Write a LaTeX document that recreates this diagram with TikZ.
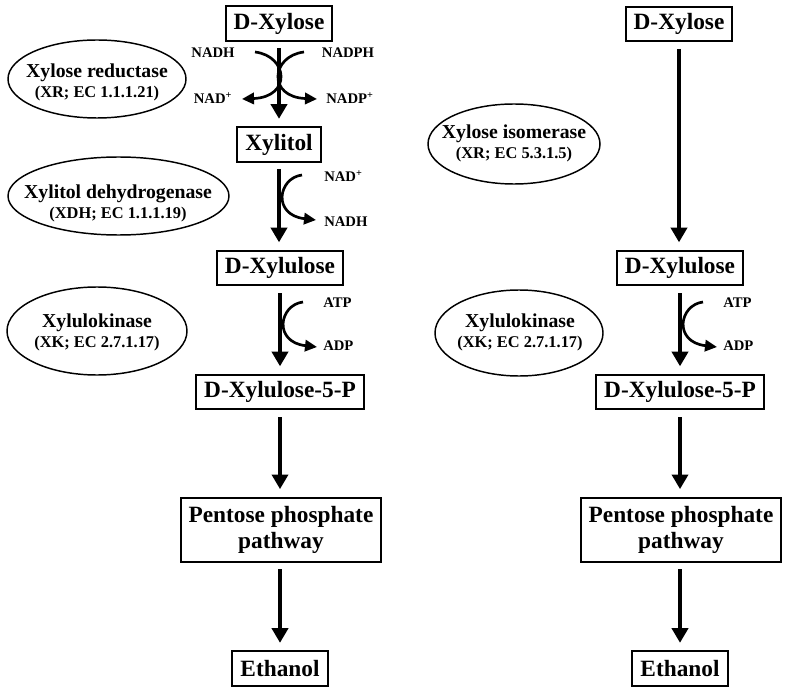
\documentclass[tikz,border=0pt]{standalone}
\usepackage{fontspec}
\setmainfont{Liberation Serif}
\usetikzlibrary{arrows.meta}
\begin{document}
\begin{tikzpicture}[x=0.75pt,y=-0.75pt]
\tikzset{
 box/.style={draw, line width=1.5pt, font=\fontsize{17.5}{19.5}\selectfont\bfseries, inner xsep=6pt, minimum height=26pt, align=center},
 flow/.style={line width=3.6pt, -{Triangle[length=11pt,width=12pt]}, shorten <=5pt, shorten >=5.5pt},
 side/.style={line width=2pt, -{Triangle[length=9pt,width=8.5pt]}},
 lbl/.style={font=\fontsize{11}{12}\selectfont\bfseries, inner sep=0pt},
 ell/.style={line width=1.1pt},
 enz/.style={align=center, inner sep=0pt, font=\bfseries},
}
\newcommand{\enzt}[2]{{\fontsize{14.8}{16}\selectfont #1}\\[3pt]{\fontsize{12.3}{14}\selectfont #2}}
\useasboundingbox (0,0) rectangle (787,698);

% ---------------- left pathway ----------------
\node[box] (lx)  at (279,23.5) {D-Xylose};
\node[box] (lxt) at (279,144.5) {Xylitol};
\node[box] (lxu) at (280,268) {D-Xylulose};
\node[box] (lxp) at (280,392) {D-Xylulose-5-P};
\node[box, minimum height=48pt] (lpp) at (281,529.5) {Pentose phosphate\\pathway};
\node[box] (let) at (280,668.5) {Ethanol};

\draw[flow] (lx.south -| 279,0) -- (lxt.north -| 279,0);
\draw[flow] (lxt.south -| 279,0) -- (lxu.north -| 279,0);
\draw[flow] (lxu.south -| 280,0) -- (lxp.north -| 280,0);
\draw[flow] (lxp.south -| 280,0) -- (lpp.north -| 280,0);
\draw[flow] (lpp.south -| 280,0) -- (let.north -| 280,0);

% cofactor labels
\node[lbl] (nadh1)  at (213,53) {NADH};
\node[lbl] (nadph)  at (348,53) {NADPH};
\node[lbl] (nad1)   at (213,98) {NAD\textsuperscript{+}};
\node[lbl] (nadp)   at (350,98) {NADP\textsuperscript{+}};
\coordinate (a1s) at (255,52);  \coordinate (a1e) at (242,99);
\coordinate (a2s) at (304,52);  \coordinate (a2e) at (317,99);
\draw[side] (a1s) .. controls (288,56) and (292,97) .. (a1e);
\draw[side] (a2s) .. controls (271,56) and (267,97) .. (a2e);

\node[lbl, anchor=west] (nad2)  at (324,176) {NAD\textsuperscript{+}};
\node[lbl, anchor=west] (nadh2) at (324,222) {NADH};
\coordinate (b1s) at (302,175); \coordinate (b1e) at (316,220);
\draw[side] (b1s) .. controls (278,178) and (272,215) .. (b1e);

\node[lbl, anchor=west] (atp1) at (323,303) {ATP};
\node[lbl, anchor=west] (adp1) at (323,346) {ADP};
\coordinate (c1s) at (303,302); \coordinate (c1e) at (317,347);
\draw[side] (c1s) .. controls (279,305) and (273,342) .. (c1e);

% enzymes left
\draw[ell] (97,79) ellipse [x radius=89, y radius=39];
\node[enz] (xr) at (97,82) {\enzt{Xylose reductase}{(XR; EC 1.1.1.21)}};
\draw[ell] (118.5,196) ellipse [x radius=110.5, y radius=39];
\node[enz] (xdh) at (118,203) {\enzt{Xylitol dehydrogenase}{(XDH; EC 1.1.1.19)}};
\draw[ell] (97,331) ellipse [x radius=90, y radius=44];
\node[enz] (xk1) at (97,332) {\enzt{Xylulokinase}{(XK; EC 2.7.1.17)}};

% ---------------- right pathway ----------------
\node[box] (rx)  at (679,24) {D-Xylose};
\node[box] (rxu) at (680,268) {D-Xylulose};
\node[box] (rxp) at (680,392) {D-Xylulose-5-P};
\node[box, minimum height=48pt] (rpp) at (681,529.5) {Pentose phosphate\\pathway};
\node[box] (ret) at (680,668.5) {Ethanol};

\draw[flow] (rx.south -| 679,0) -- (rxu.north -| 679,0);
\draw[flow] (rxu.south -| 680,0) -- (rxp.north -| 680,0);
\draw[flow] (rxp.south -| 680,0) -- (rpp.north -| 680,0);
\draw[flow] (rpp.south -| 680,0) -- (ret.north -| 680,0);

\node[lbl, anchor=west] (atp2) at (723,303) {ATP};
\node[lbl, anchor=west] (adp2) at (723,346) {ADP};
\coordinate (d1s) at (703,302); \coordinate (d1e) at (717,347);
\draw[side] (d1s) .. controls (679,305) and (673,342) .. (d1e);

\draw[ell] (514,144) ellipse [x radius=86, y radius=40];
\node[enz] (xi) at (514,143) {\enzt{Xylose isomerase}{(XR; EC 5.3.1.5)}};
\draw[ell] (519,333) ellipse [x radius=84, y radius=43];
\node[enz] (xk2) at (520,332) {\enzt{Xylulokinase}{(XK; EC 2.7.1.17)}};
\end{tikzpicture}
\end{document}
